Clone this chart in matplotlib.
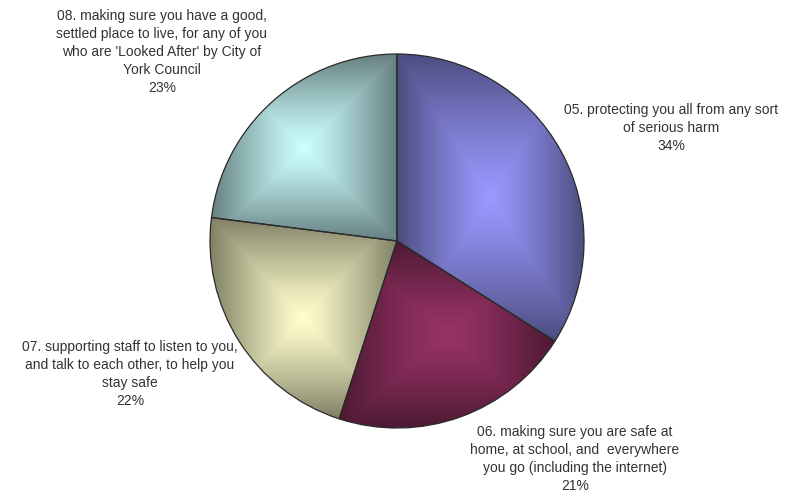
import numpy as np
import matplotlib.pyplot as plt

# Survey shares, clockwise from 12 o'clock
labels = [
    "05. protecting you all from any sort\nof serious harm",
    "06. making sure you are safe at\nhome, at school, and  everywhere\nyou go (including the internet)",
    "07. supporting staff to listen to you,\nand talk to each other, to help you\nstay safe",
    "08. making sure you have a good,\nsettled place to live, for any of you\nwho are 'Looked After' by City of\nYork Council",
]
shares = [34, 21, 22, 23]
colors = ["#9999FF", "#993366", "#FFFFCC", "#CCFFFF"]

# label anchor (centre x, top y) in pixels
label_pos = [(671, 103), (575, 425), (130, 340), (162, 9)]

W, H = 785, 492
fig = plt.figure(figsize=(W / 100, H / 100), dpi=100)
ax = fig.add_axes([0, 0, 1, 1])

cx, cy, r = 397, H - 241, 187

wedges, _ = ax.pie(shares, startangle=90, counterclock=False, radius=r,
                   center=(cx, cy), frame=True,
                   wedgeprops=dict(facecolor="none", edgecolor="#2a2a2a",
                                   linewidth=0.9, zorder=3))

# "from centre" shading: bright at the middle of each wedge's box, darker to the edges
for w, col in zip(wedges, colors):
    t1, t2 = np.radians(w.theta1), np.radians(w.theta2)
    ang = np.linspace(t1, t2, 200)
    xs = np.concatenate([[cx], cx + r * np.cos(ang)])
    ys = np.concatenate([[cy], cy + r * np.sin(ang)])
    x0, x1, y0, y1 = xs.min(), xs.max(), ys.min(), ys.max()
    gx, gy = np.meshgrid(np.linspace(x0, x1, 300), np.linspace(y0, y1, 300))
    u = np.abs(gx - (x0 + x1) / 2) / ((x1 - x0) / 2)
    v = np.abs(gy - (y0 + y1) / 2) / ((y1 - y0) / 2)
    d = np.maximum(u, v)
    base = np.array(plt.matplotlib.colors.to_rgb(col))
    shade = 1 - 0.5 * d ** 1.2
    img = np.clip(shade[..., None] * base, 0, 1)
    im = ax.imshow(img, extent=(x0, x1, y0, y1), origin="lower",
                   interpolation="bilinear", zorder=2)
    im.set_clip_path(w)

ax.set_xlim(0, W)
ax.set_ylim(0, H)
ax.set_aspect("equal")
ax.axis("off")

for lab, s, (lx, ly) in zip(labels, shares, label_pos):
    ax.text(lx, H - ly, f"{lab}\n{s}%", ha="center", va="top",
            fontsize=10, family="Liberation Sans", color="#333333",
            linespacing=1.36)

fig.savefig("out.png", dpi=100)
